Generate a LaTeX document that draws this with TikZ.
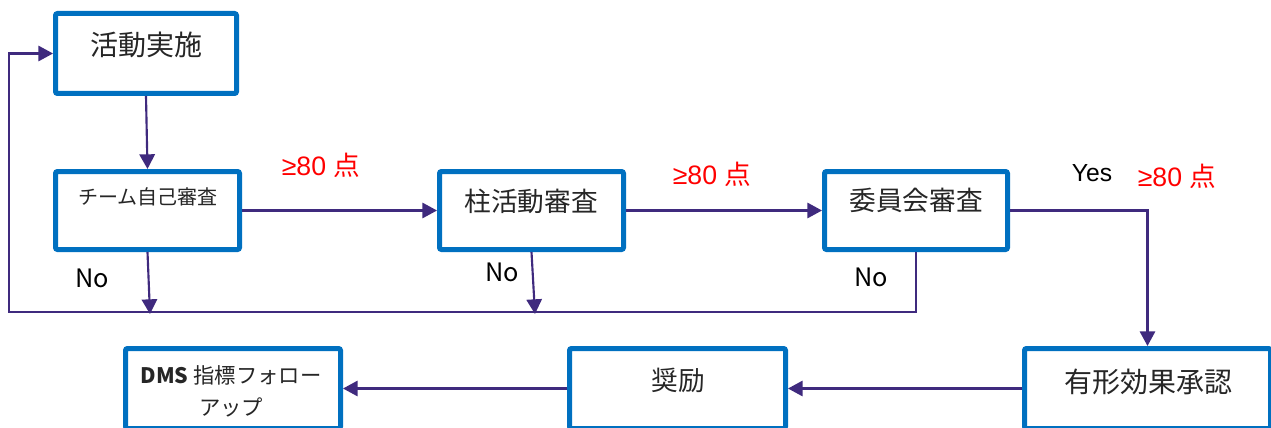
\documentclass[tikz,border=0pt]{standalone}
\usepackage{fontspec}
\setmainfont{Liberation Sans}
\newfontfamily\jp{Noto Sans CJK JP}
\usetikzlibrary{arrows.meta}
\definecolor{boxblue}{HTML}{0070C0}
\definecolor{conncol}{HTML}{3F2A7E}
\tikzset{
  stepbox/.style={draw=boxblue, line width=3.75pt, rounded corners=1.5pt, fill=white, rectangle, inner sep=0pt},
  conn/.style={draw=conncol, line width=1.6pt},
  arr/.style={conn, -{Triangle[length=11pt,width=11.5pt]}},
  bigtxt/.style={font=\jp\fontsize{20}{24}\selectfont, text=black!85, inner sep=0pt},
  smalltxt/.style={font=\jp\fontsize{15}{18}\selectfont, text=black!85, inner sep=0pt},
  notxt/.style={font=\jp\fontsize{19}{20}\selectfont, inner sep=0pt},
  redtxt/.style={font=\fontsize{20}{24}\selectfont, text=red, inner sep=0pt},
}
\begin{document}
\begin{tikzpicture}[x=0.75pt, y=-0.75pt]
\useasboundingbox (0,0) rectangle (1271,428);
% boxes
\node[stepbox, minimum width=135.75pt, minimum height=60pt] (b1) at (146,53.5) {};
\node[stepbox, minimum width=138pt, minimum height=58.5pt] (b2) at (147.5,210.5) {};
\node[stepbox, minimum width=138pt, minimum height=58.5pt] (b3) at (531.5,210.5) {};
\node[stepbox, minimum width=137.25pt, minimum height=58.5pt] (b4) at (916,210.5) {};
\node[stepbox, minimum width=184.5pt, minimum height=60pt] (b5) at (1147.5,388.5) {};
\node[stepbox, minimum width=162pt, minimum height=60pt] (b6) at (677.5,388.5) {};
\node[stepbox, minimum width=161.25pt, minimum height=60pt] (b7) at (233,388.5) {};
% box texts
\node[bigtxt, font=\jp\fontsize{21}{24}\selectfont] (t1) at (146,45) {活動実施};
\node[smalltxt] (t2) at (148,197) {チーム自己審査};
\node[bigtxt] (t3) at (531,201) {柱活動審査};
\node[bigtxt] (t4) at (916,200) {委員会審査};
\node[bigtxt, font=\jp\fontsize{21}{24}\selectfont] (t5) at (1148,382) {有形効果承認};
\node[bigtxt] (t6) at (678,380) {奨励};
\node[smalltxt, font=\jp\fontsize{16}{24}\selectfont, align=center] (t7) at (231,391) {{\bfseries DMS} 指標フォロー\\アップ};
% connector end points
\coordinate (f2) at (150,314);
\coordinate (f3) at (535,314);
\coordinate (fbL) at (9,312);
% connectors
\draw[arr] (b1.south) -- (b2.north);
\draw[arr] (b2.east) -- (b3.west);
\draw[arr] (b3.east) -- (b4.west);
\draw[arr] (b4.east) -| (b5.north);
\draw[arr] (b5.west) -- (b6.east);
\draw[arr] (b6.west) -- (b7.east);
\draw[arr] (b2.south) -- (f2);
\draw[arr] (b3.south) -- (f3);
\draw[arr] (b4.south) |- (fbL) |- (b1.west);
% labels
\node[notxt] (n1) at (92,278) {No};
\node[notxt] (n2) at (502,272) {No};
\node[notxt] (n3) at (871,277) {No};
\node[font=\fontsize{18.5}{20}\selectfont, inner sep=0pt] (yes) at (1092,173) {Yes};
\node[redtxt] (r1) at (321,165) {≥80 {\jp 点}};
\node[redtxt] (r2) at (712,174) {≥80 {\jp 点}};
\node[redtxt] (r3) at (1177,176) {≥80 {\jp 点}};
\end{tikzpicture}
\end{document}
